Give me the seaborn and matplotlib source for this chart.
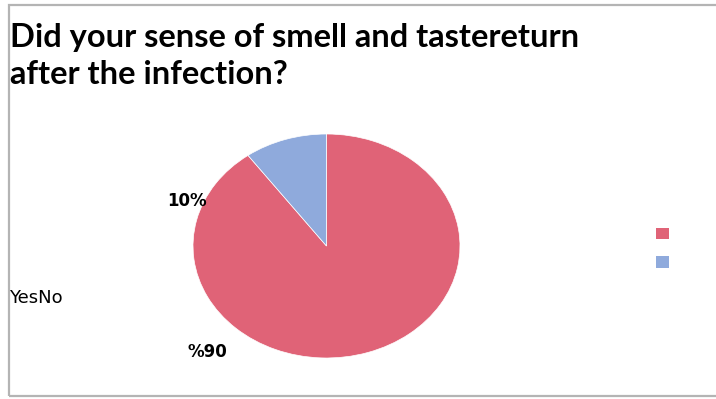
import matplotlib
matplotlib.use("Agg")
import matplotlib.pyplot as plt
from matplotlib.patches import Rectangle, Patch
import seaborn as sns

# Survey answers
categories = ["Yes", "No"]
shares = [90, 10]
pct_labels = ["%90", "10%"]
title_lines = ["Did your sense of smell and tastereturn", "after the infection?"]

sns.set_theme(style="white")
plt.rcParams["font.family"] = ["Lato", "DejaVu Sans"]
plt.rcParams["text.color"] = "black"
colors = ["#E06377", "#8FAADC"]

W, H = 716, 399
fig = plt.figure(figsize=(W / 100, H / 100), dpi=100)

def fx(px):
    return px / W

def fy(py):
    return 1 - py / H

# Outer chart frame (right edge runs past the canvas)
fig.patches.append(Rectangle((fx(8.5), fy(395.5)), 1.2, fy(4.5) - fy(395.5),
                             transform=fig.transFigure, fill=False,
                             edgecolor="#B4B4B4", linewidth=1.6, clip_on=False))

# Pie axes stretched to an ellipse
ax = fig.add_axes([fx(193), fy(358), fx(460) - fx(193), fy(134) - fy(358)])
ax.pie(shares, colors=colors, startangle=90, counterclock=False,
       wedgeprops=dict(linewidth=0.5, edgecolor="white"))
ax.set_aspect("auto")
ax.set_xlim(-1, 1)
ax.set_ylim(-1, 1)
ax.axis("off")

# Two-line heading
for line, base in zip(title_lines, [47, 84]):
    fig.text(fx(10), fy(base), line, ha="left", va="baseline", fontsize=23.5,
             fontweight="bold", color="black")

lab_font = ["DejaVu Sans"]
fig.text(fx(207), fy(352), pct_labels[0], ha="center", va="center",
         fontsize=12, fontweight="bold", family=lab_font, color="black")
fig.text(fx(187), fy(201), pct_labels[1], ha="center", va="center",
         fontsize=12, fontweight="bold", family=lab_font, color="black")

fig.text(fx(9), fy(298), "".join(categories), ha="left", va="center",
         fontsize=13, family=lab_font, color="black")

handles = [Patch(facecolor=c, edgecolor="none") for c in colors]
fig.legend(handles, ["", ""], loc="center", bbox_to_anchor=(fx(662.5), fy(249)),
           frameon=False, handlelength=0.8, handleheight=0.8,
           labelspacing=0.96, handletextpad=0, borderpad=0)

fig.savefig("out.png", dpi=100)
